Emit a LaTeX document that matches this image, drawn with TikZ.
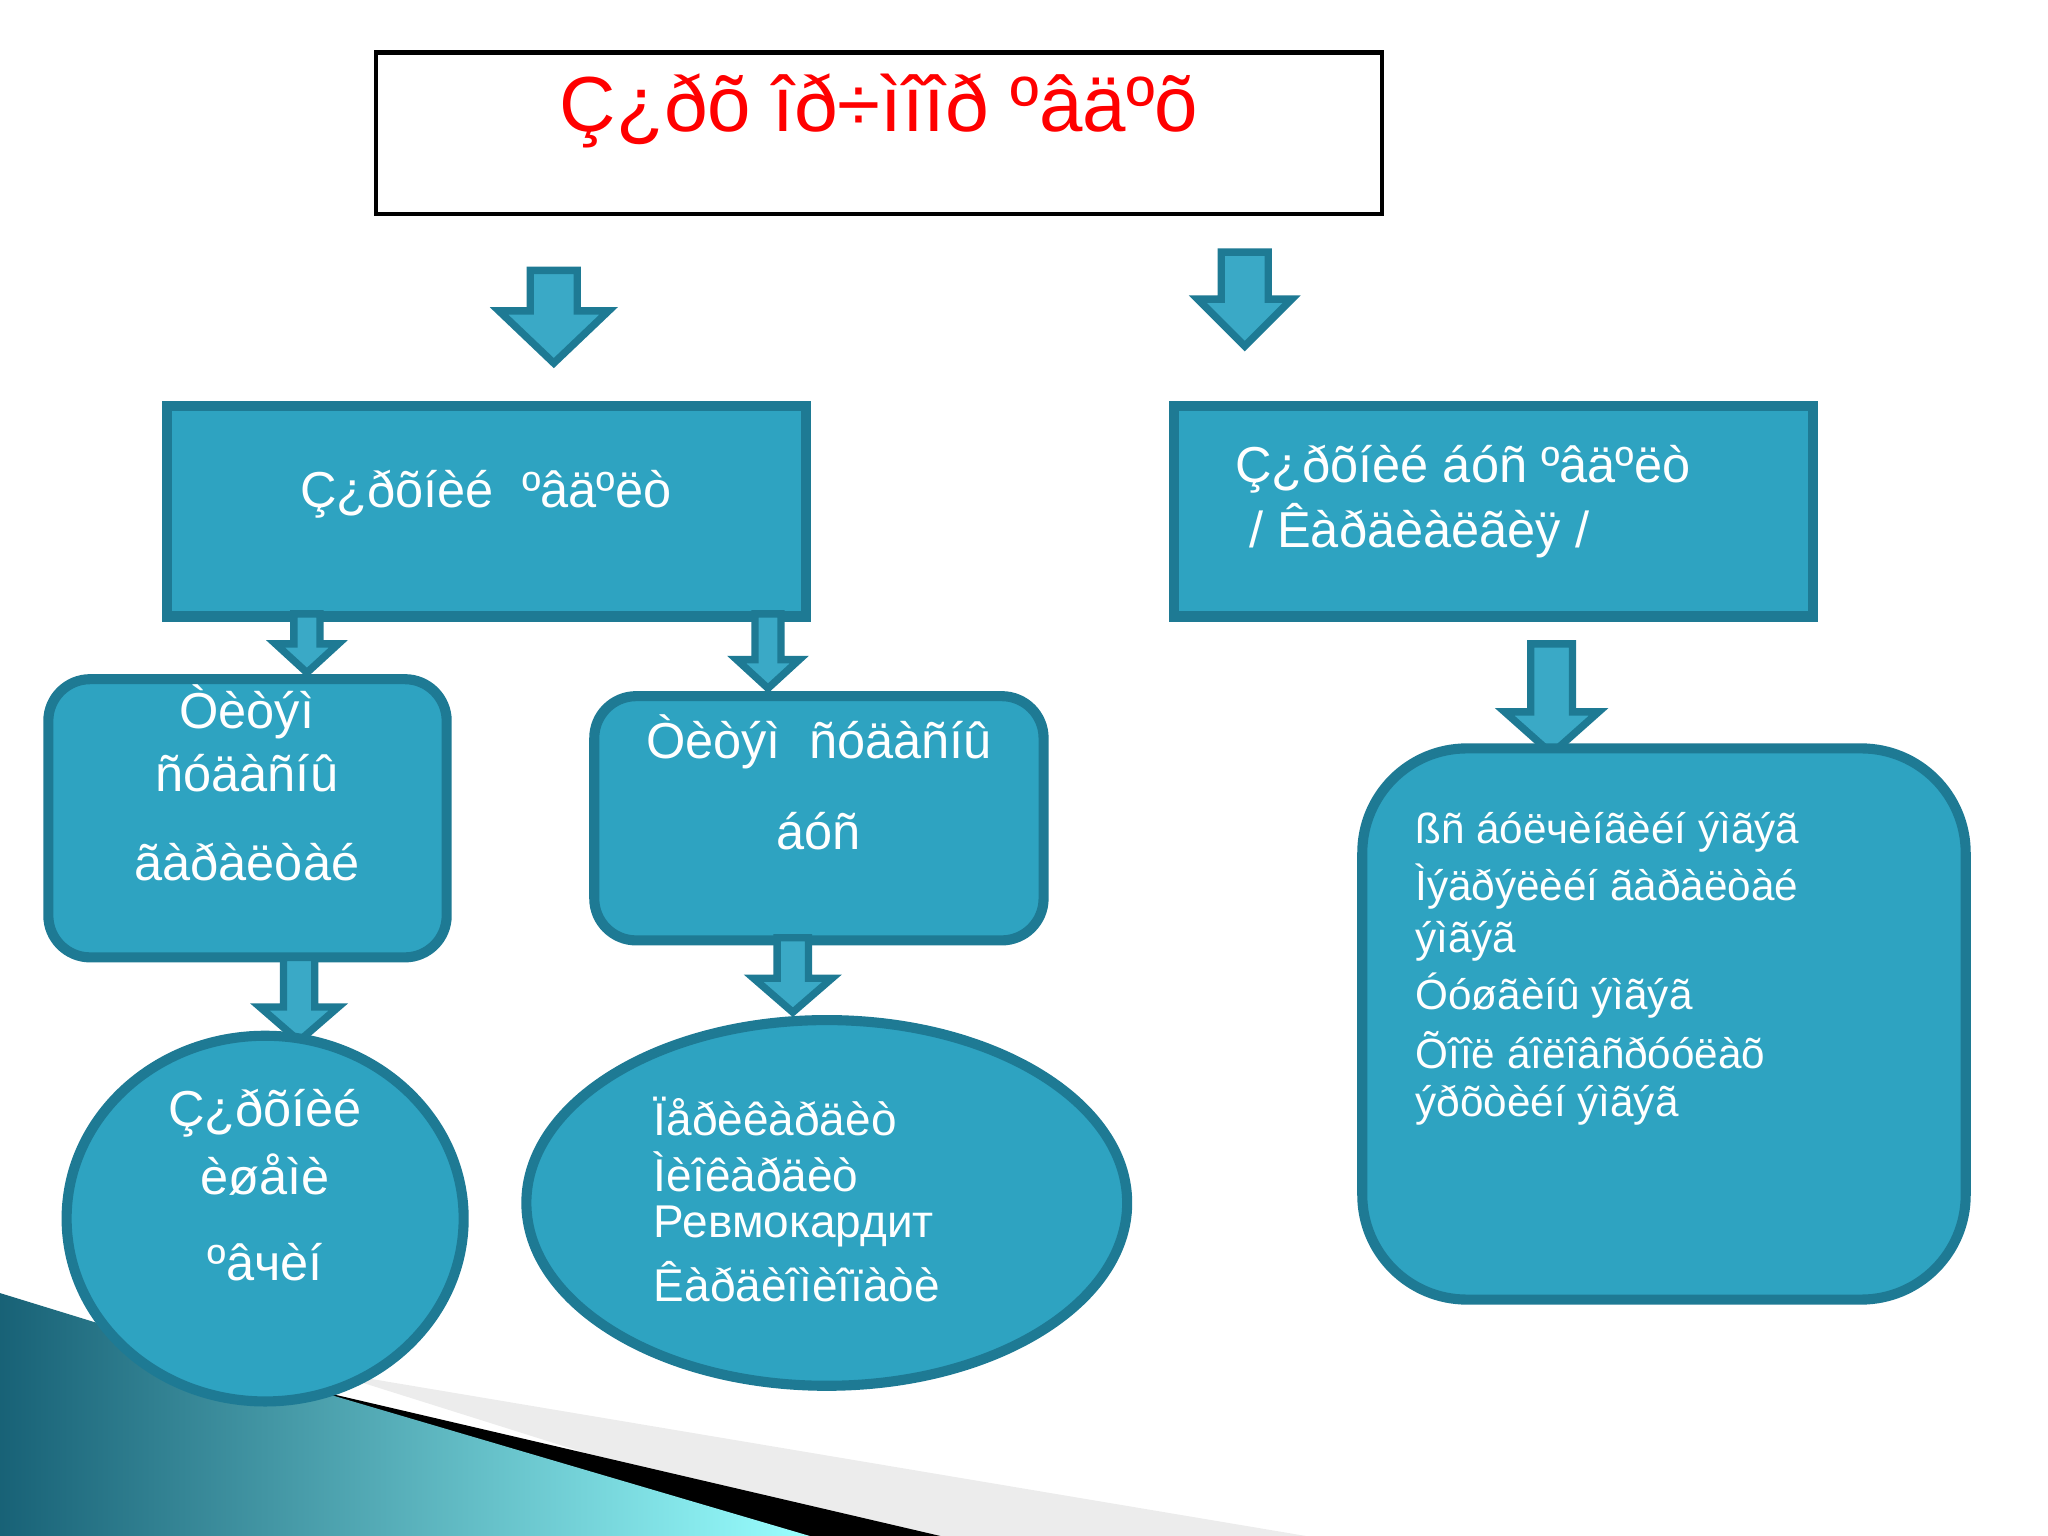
\documentclass[tikz,border=0pt]{standalone}
\usepackage{fontspec}
\setmainfont{Liberation Sans}
\usetikzlibrary{shapes.geometric}
\definecolor{tealfill}{HTML}{2EA3C1}
\definecolor{tealedge}{HTML}{1E7A94}
\definecolor{arrowfill}{HTML}{3AA9C6}
\tikzset{
  box/.style={draw=tealedge, line width=2.2pt, fill=tealfill, text=white},
  blk/.style={draw=tealedge, line width=1.6pt, fill=arrowfill},
  txt/.style={text=white, inner sep=0pt, font=\fontsize{11}{13}\selectfont},
  smalltxt/.style={text=white, inner sep=0pt, anchor=west, font=\fontsize{9.2}{11}\selectfont}
}
% block arrow: x, top, bottom, half shaft, half head, head length
\newcommand\blockarrow[6]{%
  \draw[blk] (#1-#4,#2) -- (#1+#4,#2) -- (#1+#4,#3-#6) -- (#1+#5,#3-#6)
    -- (#1,#3) -- (#1-#5,#3-#6) -- (#1-#4,#3-#6) -- cycle;}
\begin{document}
\begin{tikzpicture}[x=0.01cm, y=-0.01cm]
  \useasboundingbox (0,0) rectangle (1568,1176);
  % background swoosh
  \fill[gray!15] (250,1050) -- (1000,1176) -- (650,1176) -- cycle;
  \fill[black] (180,1050) -- (720,1176) -- (600,1176) -- cycle;
  \shade[left color=tealedge!80!black, right color=cyan!40] (0,990) -- (260,1070) -- (620,1176) -- (0,1176) -- cycle;

  % title
  \draw[fill=white, line width=1pt] (288,40) rectangle (1058,164);
  \node[text=red, font=\fontsize{17}{20}\selectfont] (title) at (673,85) {Ç¿ðõ îð÷ìîîð ºâäºõ};

  \blockarrow{424}{207}{278}{18}{42}{40}
  \blockarrow{953}{193}{265}{18}{36}{36}

  % boxes
  \draw[box] (128,311) rectangle (617,472);
  \node[txt] (inner) at (372,378) {Ç¿ðõíèé\ \ ºâäºëò};
  \draw[box] (899,311) rectangle (1388,472);
  \node[txt, anchor=west, align=left] (outer) at (945,384) {Ç¿ðõíèé áóñ ºâäºëò\\[1pt]\ / Êàðäèàëãèÿ /};

  \blockarrow{235}{470}{515}{10}{24}{22}
  \blockarrow{588}{470}{527}{10}{24}{22}
  \blockarrow{1188}{493}{577}{16}{36}{32}

  \draw[box, rounded corners=0.32cm] (37,520) rectangle (342,733);
  \node[txt] (cong1) at (189,545) {Òèòýì};
  \node[txt] (cong2) at (189,592) {ñóäàñíû};
  \node[txt] (cong3) at (189,660) {ãàðàëòàé};
  \draw[box, rounded corners=0.32cm] (455,533) rectangle (799,720);
  \node[txt] (acq1) at (627,568) {Òèòýì\ \ ñóäàñíû};
  \node[txt] (acq2) at (627,636) {áóñ};

  \blockarrow{229}{733}{797}{12}{30}{26}
  \blockarrow{607}{718}{775}{12}{30}{26}

  \draw[box] (203,933) ellipse [x radius=152, y radius=140];
  \node[txt] (isch1) at (203,852) {Ç¿ðõíèé};
  \node[txt] (isch2) at (203,899) {èøåìè};
  \node[txt] (isch3) at (203,966) {ºâчèí};

  \draw[box] (633,921) ellipse [x radius=230, y radius=140];
  \foreach \t [count=\i from 0] in {Ïåðèêàðäèò,Ìèîêàðäèò,Ревмокардит,Êàðäèîìèîïàòè}
    \node[smalltxt, font=\fontsize{10}{12}\selectfont] (infl\i) at (500,855+42*\i) {\t};

  \draw[box, rounded corners=0.8cm] (1043,573) rectangle (1505,995);
  \foreach \t [count=\i from 0] in {ßñ áóëчèíãèéí ýìãýã,Ìýäðýëèéí ãàðàëòàé,ýìãýã,Óóøãèíû ýìãýã,Õîîë áîëîâñðóóëàõ,ýðõòèéí ýìãýã}
    \node[smalltxt] (sys\i) at (1083,637+41.8*\i) {\t};
\end{tikzpicture}
\end{document}
